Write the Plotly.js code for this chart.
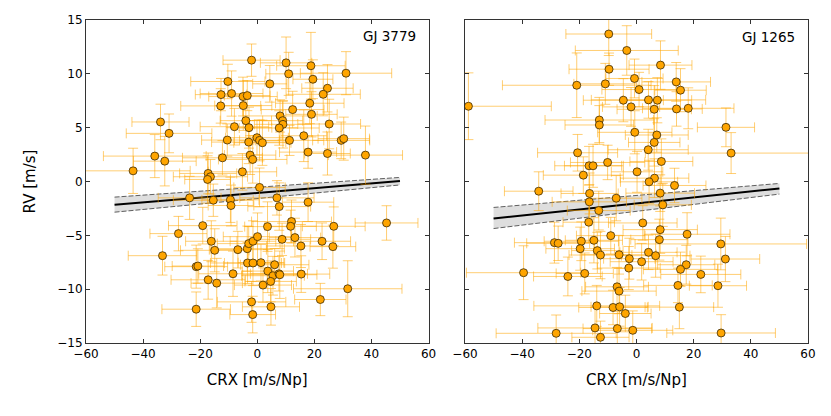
<!DOCTYPE html>
<html>
<head>
<meta charset="utf-8">
<script src="https://cdn.plot.ly/plotly-3.0.1.min.js"></script>
<style>html,body{margin:0;padding:0;background:#fff;}#chart{width:831px;height:416px;}</style>
</head>
<body>
<div id="chart"></div>
<script>
// ---- GJ 3779 (left panel) ----
var crxA = [-2.0,10.1,18.8,11.0,31.1,19.5,-10.3,4.4,24.6,23.1,-12.7,-9.0,-5.0,-3.5,-12.8,-4.9,18.4,12.4,19.0,-33.9,8.0,8.9,9.0,7.7,-4.0,-8.0,-2.9,25.2,-30.9,-10.5,-3.0,-0.1,0.8,1.8,11.3,16.3,29.4,30.3,-35.9,-32.4,-12.2,-2.5,-1.6,17.8,24.6,37.9,-43.5,-17.2,-16.4,-17.4,-5.2,0.8,-23.7,-15.4,-9.4,-9.2,6.9,7.7,17.8,-19.1,-27.6,12.0,11.7,3.6,26.8,45.3,-16.1,-14.9,-6.8,-3.5,-3.0,-1.5,0.1,8.7,13.2,15.3,22.7,26.5,-33.2,-21.4,-20.8,-3.4,-1.5,1.3,6.1,3.7,5.5,7.6,7.9,4.7,2.0,-8.5,-17.2,-14.2,15.4,31.7,22.1,-2.0,4.8,-21.4,-1.6];
var rvA = [11.27,11.02,10.75,10.0,10.06,9.5,9.29,9.07,8.66,8.1,8.07,8.17,7.89,7.98,7.02,7.05,7.27,6.68,6.24,5.53,6.09,5.65,5.31,4.97,5.65,5.09,5.0,5.34,4.47,3.85,3.66,4.07,3.82,3.6,3.82,4.25,3.82,3.98,2.36,1.89,2.2,2.45,2.05,2.73,2.6,2.45,0.99,0.75,0.44,0.19,0.9,-0.55,-1.52,-1.74,-1.70,-2.23,-1.52,-2.33,-1.92,-4.1,-4.84,-3.72,-4.16,-4.19,-4.16,-3.85,-5.55,-6.39,-6.33,-6.24,-5.77,-5.55,-5.12,-5.37,-5.21,-5.99,-5.55,-6.05,-6.89,-7.91,-7.85,-7.57,-7.57,-7.54,-7.73,-8.32,-8.75,-8.57,-8.66,-9.28,-9.62,-8.57,-9.13,-9.44,-8.6,-9.96,-10.96,-11.18,-11.64,-11.86,-12.36];
var crxErrA = [10,9,12,8,16,7,13,6,9,13,9,11,12,8,14,10,12,11,9,10,13,7,10,14,9,12,8,11,15,9,13,11,7,10,12,8,10,9,18,11,14,9,12,10,8,13,20,10,13,8,12,9,11,14,10,8,13,11,9,12,10,14,9,8,11,11,9,12,10,13,11,8,12,10,9,12,10,8,12,11,9,13,10,8,12,9,11,10,13,9,10,12,13,9,10,19,9,12,10,12,8];
var rvErrA = [1.5,2.4,3.1,2.0,2.0,1.8,1.6,1.7,2.2,2.0,1.5,2.1,1.8,1.4,1.6,2.3,1.9,1.7,2.1,1.65,1.5,1.8,2.2,1.6,2.0,1.7,1.9,2.3,1.8,1.5,2.0,1.6,1.9,2.1,1.4,2.4,1.7,2.0,2.0,2.3,1.6,1.8,2.2,1.5,2.0,2.7,2.1,1.9,1.6,2.2,1.7,1.8,2.0,1.5,2.1,1.9,1.6,2.2,1.8,1.7,1.6,2.0,1.5,2.3,1.8,1.6,1.9,2.0,1.7,2.1,1.6,1.9,2.2,1.5,1.8,2.0,1.7,2.0,1.8,2.0,1.6,1.9,2.1,1.7,1.5,2.0,1.8,1.6,2.2,1.9,1.6,2.1,1.8,2.3,1.7,2.6,1.5,1.9,1.7,1.6,1.7];

// ---- GJ 1265 (right panel) ----
var crxB = [-9.7,-3.4,8.4,-9.6,-0.7,13.9,15.4,-20.9,-10.9,0.9,-58.8,-4.6,4.2,7.3,-1.9,6.2,14.0,18.1,-13.0,-13.0,31.3,-0.6,7.1,6.2,4.1,-20.6,33.1,-16.6,-15.2,-10.1,8.7,0.2,-18.6,6.3,4.4,13.3,-34.2,-16.4,-16.5,-7.1,8.3,9.2,-13.2,-16.7,2.2,8.3,8.0,17.7,-9.0,-14.9,-19.3,-28.7,-27.4,-19.7,-13.7,-12.6,-6.1,4.2,6.7,-2.5,1.8,29.5,31.1,17.4,15.4,-2.7,-39.5,-24.0,-18.1,22.5,14.5,28.5,-6.8,-6.1,-13.9,-8.2,-5.9,-3.9,15.0,-14.5,-6.7,-1.3,-28.1,-12.6,29.6];
var rvB = [13.7,12.17,10.81,10.43,9.57,9.25,8.48,8.94,9.07,8.54,6.99,7.55,7.58,7.55,6.93,6.71,6.74,6.8,5.71,5.25,5.03,4.57,4.32,3.63,2.95,2.67,2.64,1.46,1.46,1.77,1.86,0.9,0.59,0.31,-0.03,-0.37,-0.9,-1.11,-1.89,-1.55,-1.08,-2.17,-2.7,-3.78,-3.85,-4.47,-5.4,-4.9,-5.03,-5.46,-5.55,-5.68,-5.74,-6.24,-6.42,-6.83,-6.8,-6.58,-6.89,-7.17,-7.45,-5.8,-7.2,-7.73,-8.16,-8.04,-8.47,-8.82,-8.54,-8.63,-9.65,-9.68,-9.78,-10.18,-11.55,-11.7,-11.64,-12.26,-11.67,-13.6,-13.66,-13.82,-14.1,-14.47,-14.07];
var crxErrB = [15,18,11,14,10,12,9,26,11,13,29,14,20,12,10,13,9,16,19,12,10,13,11,9,14,14,30,12,10,13,11,9,14,12,10,11,12,10,13,9,12,10,11,9,12,13,10,15,12,10,13,14,11,12,9,11,13,10,12,9,11,30,12,10,13,11,20,12,10,14,12,10,11,13,22,12,10,9,12,20,12,14,21,10,19];
var rvErrB = [2.0,2.3,2.25,1.5,1.8,1.8,2.0,3.0,1.9,1.6,3.1,2.0,1.7,2.1,1.8,2.2,1.6,1.9,2.1,1.8,1.8,2.0,1.6,2.2,1.9,1.7,1.9,1.8,2.0,1.6,2.1,1.9,1.7,1.8,2.0,1.6,1.8,1.9,1.6,2.1,1.7,2.0,1.8,1.9,1.6,2.2,1.9,2.0,1.7,2.1,1.8,1.9,1.6,2.0,1.7,2.2,1.8,1.6,2.0,1.9,1.7,2.4,2.1,1.8,1.6,2.0,2.5,1.8,1.9,1.7,1.6,2.0,1.8,2.1,1.9,1.6,1.8,1.7,2.0,1.9,1.6,1.8,1.7,1.5,1.7];

// ---- fitted trend lines with uncertainty band ----
var fitX = [-50, 50];
var fitMidA = [-2.17, 0.04], fitHiA = [-1.45, 0.38], fitLoA = [-2.85, -0.32];
var fitMidB = [-3.44, -0.64], fitHiB = [-2.41, -0.18], fitLoB = [-4.37, -1.17];

var labels = ['GJ 3779', 'GJ 1265'];
var xTicks = [-60, -40, -20, 0, 20, 40, 60];
var yTicks = [-15, -10, -5, 0, 5, 10, 15];

var FONT = 'DejaVu Sans, Liberation Sans, sans-serif';
var orange = '#FFA500';
var errCol = 'rgba(255,165,0,0.55)';

function bandTraces(xa, ya, hi, lo, mid) {
  return [
    {x: fitX, y: hi, xaxis: xa, yaxis: ya, mode: 'lines', line: {color: 'rgba(70,70,70,0.85)', width: 1, dash: '5px,2px'}, hoverinfo: 'skip', showlegend: false},
    {x: fitX, y: lo, xaxis: xa, yaxis: ya, mode: 'lines', fill: 'tonexty', fillcolor: 'rgba(160,160,160,0.35)', line: {color: 'rgba(70,70,70,0.85)', width: 1, dash: '5px,2px'}, hoverinfo: 'skip', showlegend: false},
    {x: fitX, y: mid, xaxis: xa, yaxis: ya, mode: 'lines', line: {color: '#000', width: 2}, hoverinfo: 'skip', showlegend: false}
  ];
}
function pointTrace(xa, ya, xs, ys, ex, ey) {
  return {
    x: xs, y: ys, xaxis: xa, yaxis: ya, mode: 'markers', type: 'scatter', showlegend: false,
    marker: {color: orange, size: 8, line: {color: '#3b2a05', width: 0.8}},
    error_x: {type: 'data', array: ex, visible: true, color: errCol, thickness: 1, width: 5},
    error_y: {type: 'data', array: ey, visible: true, color: errCol, thickness: 1, width: 5}
  };
}

var data = [].concat(
  bandTraces('x', 'y', fitHiA, fitLoA, fitMidA),
  [pointTrace('x', 'y', crxA, rvA, crxErrA, rvErrA)],
  bandTraces('x2', 'y2', fitHiB, fitLoB, fitMidB),
  [pointTrace('x2', 'y2', crxB, rvB, crxErrB, rvErrB)]
);

function xAxis(dom, anchor) {
  return {
    domain: dom, anchor: anchor, range: [-60, 60], tickvals: xTicks, ticks: 'inside', ticklen: 4, tickcolor: '#333',
    mirror: 'ticks', showline: true, linecolor: '#333', linewidth: 1, showgrid: false, zeroline: false,
    tickfont: {family: FONT, size: 12, color: '#000'},
    title: {text: 'CRX [m/s/Np]', font: {family: FONT, size: 15, color: '#000'}, standoff: 14}
  };
}
function yAxis(anchor, showLabels, withTitle) {
  var a = {
    anchor: anchor, domain: [0, 1], range: [-15, 15], tickvals: yTicks, ticks: 'inside', ticklen: 4, tickcolor: '#333',
    mirror: 'ticks', showline: true, linecolor: '#333', linewidth: 1, showgrid: false, zeroline: false,
    showticklabels: showLabels, tickfont: {family: FONT, size: 12, color: '#000'}
  };
  if (withTitle) a.title = {text: 'RV [m/s]', font: {family: FONT, size: 15, color: '#000'}, standoff: 18};
  return a;
}

var layout = {
  width: 831, height: 416,
  margin: {l: 86, r: 23, t: 20, b: 73},
  paper_bgcolor: '#fff', plot_bgcolor: '#fff',
  font: {family: FONT, size: 12, color: '#000'},
  xaxis: xAxis([0, 0.4744], 'y'),
  xaxis2: xAxis([0.5249, 1], 'y2'),
  yaxis: yAxis('x', true, true),
  yaxis2: yAxis('x2', false, false),
  showlegend: false,
  annotations: [
    {xref: 'x', yref: 'y', x: 56.2, y: 13.47, text: labels[0], showarrow: false, xanchor: 'right', yanchor: 'middle', font: {family: FONT, size: 13.5, color: '#000'}},
    {xref: 'x2', yref: 'y2', x: 56.1, y: 13.45, text: labels[1], showarrow: false, xanchor: 'right', yanchor: 'middle', font: {family: FONT, size: 13.5, color: '#000'}}
  ]
};

Plotly.newPlot('chart', data, layout, {staticPlot: true, displayModeBar: false});
</script>
</body>
</html>
